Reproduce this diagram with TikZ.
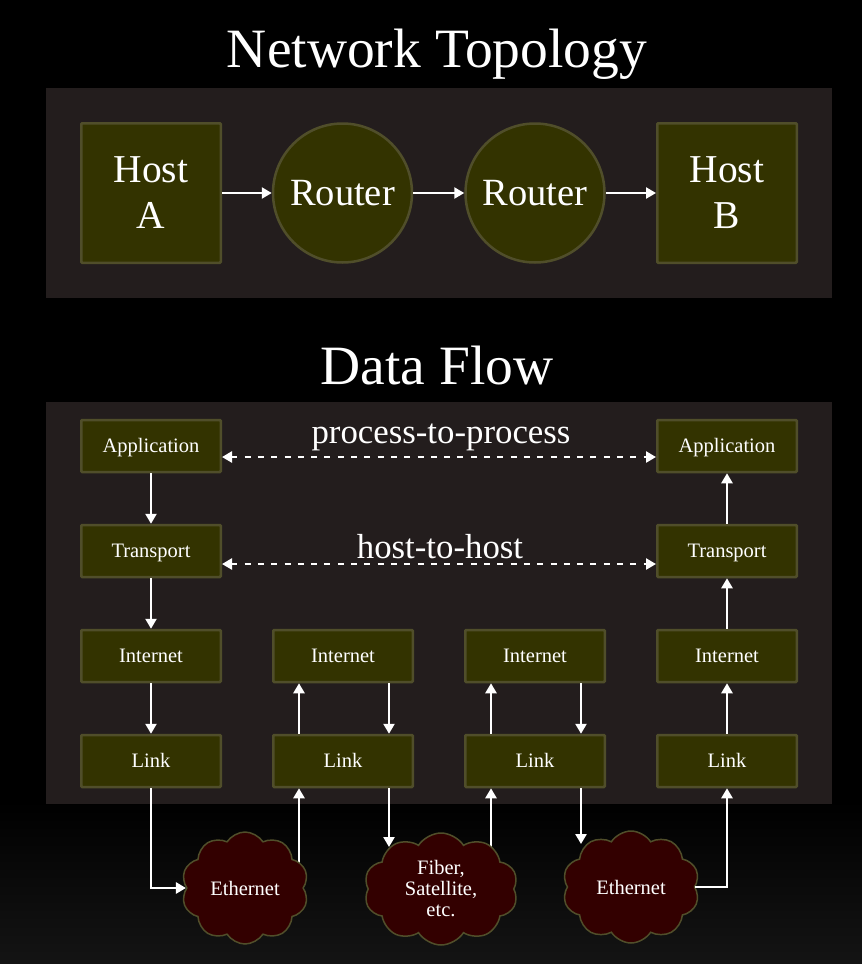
\documentclass[tikz,border=0pt]{standalone}
\usepackage{fontspec}
\setmainfont{Liberation Serif}
\usetikzlibrary{shapes.symbols,arrows.meta,calc}
\definecolor{panelc}{RGB}{35,29,29}
\definecolor{boxfill}{RGB}{51,51,0}
\definecolor{boxedge}{RGB}{80,78,42}
\definecolor{cloudfill}{RGB}{51,0,0}
\definecolor{bottomgray}{RGB}{20,20,20}
\begin{document}
\begin{tikzpicture}[x=1pt,y=-1pt,
  panel/.style={rectangle, fill=panelc, draw=none, inner sep=0pt},
  titletext/.style={text=white, font=\fontsize{55.5}{62}\selectfont, inner sep=0pt, anchor=base},
  hostbox/.style={rectangle, fill=boxfill, draw=boxedge, line width=2.5pt, rounded corners=1pt,
    minimum width=139.5pt, minimum height=139.5pt, text=white, align=center,
    font=\fontsize{39.5}{46}\selectfont, inner sep=0pt},
  routerc/.style={circle, fill=boxfill, draw=boxedge, line width=2.5pt, minimum size=139pt,
    text=white, font=\fontsize{38.5}{45}\selectfont, inner sep=0pt},
  layerbox/.style={rectangle, fill=boxfill, draw=boxedge, line width=2.5pt, rounded corners=1pt,
    minimum width=139.5pt, minimum height=52pt, text=white, text height=13.6pt, text depth=0pt,
    font=\fontsize{20.5}{24}\selectfont, inner sep=0pt},
  netcloud/.style={cloud, cloud puffs=10, cloud puff arc=115, cloud ignores aspect,
    fill=cloudfill, draw=boxedge, line width=1.5pt, text=white, align=center,
    font=\fontsize{20.5}{21}\selectfont, inner sep=0pt},
  midtext/.style={text=white, font=\fontsize{34.8}{40}\selectfont, inner sep=0pt, anchor=base},
  arr/.style={draw=white, line width=2.5pt, -{Triangle[length=10pt,width=11pt]}},
  dotarr/.style={draw=white, line width=2.5pt, dash pattern=on 6pt off 7.3pt,
    {Triangle[length=10pt,width=11pt]}-{Triangle[length=10pt,width=11pt]}}
]
% background
\useasboundingbox (0,0) rectangle (862,964);
\fill[black] (0,0) rectangle (862,964);
\shade[top color=black, bottom color=bottomgray] (0,800) rectangle (862,964);

% ---------- Network Topology ----------
\node[titletext] (title1) at (437,67) {Network Topology};
\node[panel, minimum width=786pt, minimum height=210pt] (panel1) at (439,193) {};
\node[hostbox] (hostA) at (151,193) {Host\\A};
\node[routerc] (r1) at (342.5,193) {Router};
\node[routerc] (r2) at (535,193) {Router};
\node[hostbox] (hostB) at (727,193) {Host\\B};
\draw[arr] (hostA) -- (r1);
\draw[arr] (r1) -- (r2);
\draw[arr] (r2) -- (hostB);

% ---------- Data Flow ----------
\node[titletext] (title2) at (437,384) {Data Flow};
\node[panel, minimum width=786pt, minimum height=402pt] (panel2) at (439,603) {};

\node[layerbox] (a1) at (151,446) {Application};
\node[layerbox] (t1) at (151,551) {Transport};
\node[layerbox] (i1) at (151,656) {Internet};
\node[layerbox] (l1) at (151,761) {Link};

\node[layerbox] (i2) at (343,656) {Internet};
\node[layerbox] (l2) at (343,761) {Link};

\node[layerbox] (i3) at (535,656) {Internet};
\node[layerbox] (l3) at (535,761) {Link};

\node[layerbox] (a4) at (727,446) {Application};
\node[layerbox] (t4) at (727,551) {Transport};
\node[layerbox] (i4) at (727,656) {Internet};
\node[layerbox] (l4) at (727,761) {Link};

\node[midtext] (p2p) at (441,443) {process-to-process};
\node[midtext] (h2h) at (440,558) {host-to-host};

\draw[dotarr] ([yshift=-11pt]a1.east) -- ([yshift=-11pt]a4.west);
\draw[dotarr] ([yshift=-13pt]t1.east) -- ([yshift=-13pt]t4.west);

% host A stack (down)
\draw[arr] (a1) -- (t1);
\draw[arr] (t1) -- (i1);
\draw[arr] (i1) -- (l1);
% routers
\draw[arr] ([xshift=-44pt]l2.north) -- ([xshift=-44pt]i2.south);
\draw[arr] ([xshift=46pt]i2.south) -- ([xshift=46pt]l2.north);
\draw[arr] ([xshift=-44pt]l3.north) -- ([xshift=-44pt]i3.south);
\draw[arr] ([xshift=46pt]i3.south) -- ([xshift=46pt]l3.north);
% host B stack (up)
\draw[arr] (l4) -- (i4);
\draw[arr] (i4) -- (t4);
\draw[arr] (t4) -- (a4);

% links leaving clouds (drawn behind the clouds)
\coordinate (e1up) at (299,870);
\coordinate (fup) at (491,870);
\draw[arr] (e1up) -- (e1up |- l2.south);
\draw[arr] (fup) -- (fup |- l3.south);

% clouds
\node[netcloud, minimum width=127pt, minimum height=112pt] (e1) at (245,888) {Ethernet};
\node[netcloud, minimum width=154pt, minimum height=112pt] (fib) at (441,889) {Fiber,\\Satellite,\\etc.};
\node[netcloud, minimum width=137pt, minimum height=112pt] (e2) at (631,887) {Ethernet};

% links entering clouds
\coordinate (fdn) at (389,847);
\coordinate (e2dn) at (581,844);
\draw[arr] (l1.south) |- (e1.west);
\draw[arr] ([xshift=46pt]l2.south) -- (fdn);
\draw[arr] ([xshift=46pt]l3.south) -- (e2dn);
\draw[arr] (e2.east) -| (l4.south);
\end{tikzpicture}
\end{document}
